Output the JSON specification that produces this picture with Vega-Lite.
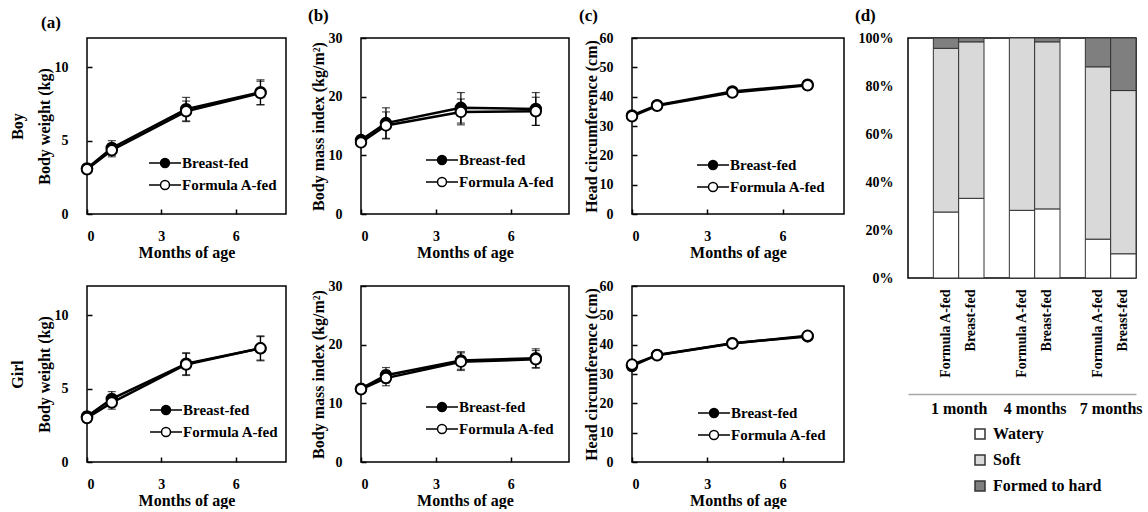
{
  "$schema": "https://vega.github.io/schema/vega-lite/v6.json",
  "padding": {"left": 8, "top": 6, "right": 0, "bottom": 0},
  "config": {
    "font": "Liberation Serif, DejaVu Serif, serif",
    "view": {"stroke": "black", "strokeWidth": 1.5},
    "axis": {"labelFont": "Liberation Serif, DejaVu Serif, serif", "labelFontSize": 14, "labelFontWeight": "bold", "labelColor": "black", "titleFont": "Liberation Serif, DejaVu Serif, serif", "titleFontSize": 16, "titleFontWeight": "bold", "titleColor": "black", "grid": false, "domain": false, "tickColor": "black", "tickSize": -5, "tickWidth": 1.5},
    "axisX": {"labelPadding": 20, "titlePadding": 1},
    "axisY": {"labelPadding": 24, "titlePadding": 2},
    "title": {"font": "Liberation Serif, DejaVu Serif, serif", "fontSize": 17, "fontWeight": "bold", "anchor": "start", "frame": "group", "color": "black"},
    "legend": {"labelFont": "Liberation Serif, DejaVu Serif, serif", "labelFontSize": 15, "labelFontWeight": "bold", "labelColor": "black", "padding": 0}
  },
  "datasets": {
    "growth": [
      {"m": "weight", "sex": "Boy", "group": "Breast-fed", "month": 0, "mean": 3.10, "lo": 2.80, "hi": 3.40},
      {"m": "weight", "sex": "Boy", "group": "Breast-fed", "month": 1, "mean": 4.50, "lo": 4.00, "hi": 5.00},
      {"m": "weight", "sex": "Boy", "group": "Breast-fed", "month": 4, "mean": 7.15, "lo": 6.35, "hi": 7.95},
      {"m": "weight", "sex": "Boy", "group": "Breast-fed", "month": 7, "mean": 8.30, "lo": 7.45, "hi": 9.15},
      {"m": "weight", "sex": "Boy", "group": "Formula A-fed", "month": 0, "mean": 3.05, "lo": 2.75, "hi": 3.35},
      {"m": "weight", "sex": "Boy", "group": "Formula A-fed", "month": 1, "mean": 4.35, "lo": 3.90, "hi": 4.80},
      {"m": "weight", "sex": "Boy", "group": "Formula A-fed", "month": 4, "mean": 7.00, "lo": 6.30, "hi": 7.70},
      {"m": "weight", "sex": "Boy", "group": "Formula A-fed", "month": 7, "mean": 8.25, "lo": 7.45, "hi": 9.05},
      {"m": "weight", "sex": "Girl", "group": "Breast-fed", "month": 0, "mean": 3.10, "lo": 2.80, "hi": 3.40},
      {"m": "weight", "sex": "Girl", "group": "Breast-fed", "month": 1, "mean": 4.30, "lo": 3.80, "hi": 4.80},
      {"m": "weight", "sex": "Girl", "group": "Breast-fed", "month": 4, "mean": 6.70, "lo": 5.95, "hi": 7.45},
      {"m": "weight", "sex": "Girl", "group": "Breast-fed", "month": 7, "mean": 7.75, "lo": 6.90, "hi": 8.60},
      {"m": "weight", "sex": "Girl", "group": "Formula A-fed", "month": 0, "mean": 3.00, "lo": 2.70, "hi": 3.30},
      {"m": "weight", "sex": "Girl", "group": "Formula A-fed", "month": 1, "mean": 4.05, "lo": 3.60, "hi": 4.50},
      {"m": "weight", "sex": "Girl", "group": "Formula A-fed", "month": 4, "mean": 6.65, "lo": 5.90, "hi": 7.40},
      {"m": "weight", "sex": "Girl", "group": "Formula A-fed", "month": 7, "mean": 7.75, "lo": 6.95, "hi": 8.55},
      {"m": "bmi", "sex": "Boy", "group": "Breast-fed", "month": 0, "mean": 12.6, "lo": 11.9, "hi": 13.3},
      {"m": "bmi", "sex": "Boy", "group": "Breast-fed", "month": 1, "mean": 15.5, "lo": 12.9, "hi": 18.1},
      {"m": "bmi", "sex": "Boy", "group": "Breast-fed", "month": 4, "mean": 18.1, "lo": 15.5, "hi": 20.7},
      {"m": "bmi", "sex": "Boy", "group": "Breast-fed", "month": 7, "mean": 17.9, "lo": 15.1, "hi": 20.7},
      {"m": "bmi", "sex": "Boy", "group": "Formula A-fed", "month": 0, "mean": 12.2, "lo": 11.5, "hi": 12.9},
      {"m": "bmi", "sex": "Boy", "group": "Formula A-fed", "month": 1, "mean": 15.1, "lo": 12.8, "hi": 17.4},
      {"m": "bmi", "sex": "Boy", "group": "Formula A-fed", "month": 4, "mean": 17.4, "lo": 15.2, "hi": 19.6},
      {"m": "bmi", "sex": "Boy", "group": "Formula A-fed", "month": 7, "mean": 17.5, "lo": 15.1, "hi": 19.9},
      {"m": "bmi", "sex": "Girl", "group": "Breast-fed", "month": 0, "mean": 12.5, "lo": 11.9, "hi": 13.1},
      {"m": "bmi", "sex": "Girl", "group": "Breast-fed", "month": 1, "mean": 14.8, "lo": 13.5, "hi": 16.1},
      {"m": "bmi", "sex": "Girl", "group": "Breast-fed", "month": 4, "mean": 17.3, "lo": 15.8, "hi": 18.8},
      {"m": "bmi", "sex": "Girl", "group": "Breast-fed", "month": 7, "mean": 17.7, "lo": 16.1, "hi": 19.3},
      {"m": "bmi", "sex": "Girl", "group": "Formula A-fed", "month": 0, "mean": 12.4, "lo": 11.8, "hi": 13.0},
      {"m": "bmi", "sex": "Girl", "group": "Formula A-fed", "month": 1, "mean": 14.3, "lo": 13.0, "hi": 15.6},
      {"m": "bmi", "sex": "Girl", "group": "Formula A-fed", "month": 4, "mean": 17.1, "lo": 15.6, "hi": 18.6},
      {"m": "bmi", "sex": "Girl", "group": "Formula A-fed", "month": 7, "mean": 17.5, "lo": 16.0, "hi": 19.0},
      {"m": "head", "sex": "Boy", "group": "Breast-fed", "month": 0, "mean": 33.6, "lo": 33.0, "hi": 34.2},
      {"m": "head", "sex": "Boy", "group": "Breast-fed", "month": 1, "mean": 37.1, "lo": 36.5, "hi": 37.7},
      {"m": "head", "sex": "Boy", "group": "Breast-fed", "month": 4, "mean": 41.8, "lo": 41.2, "hi": 42.4},
      {"m": "head", "sex": "Boy", "group": "Breast-fed", "month": 7, "mean": 44.1, "lo": 43.5, "hi": 44.7},
      {"m": "head", "sex": "Boy", "group": "Formula A-fed", "month": 0, "mean": 33.3, "lo": 32.7, "hi": 33.9},
      {"m": "head", "sex": "Boy", "group": "Formula A-fed", "month": 1, "mean": 36.9, "lo": 36.3, "hi": 37.5},
      {"m": "head", "sex": "Boy", "group": "Formula A-fed", "month": 4, "mean": 41.4, "lo": 40.8, "hi": 42.0},
      {"m": "head", "sex": "Boy", "group": "Formula A-fed", "month": 7, "mean": 43.9, "lo": 43.3, "hi": 44.5},
      {"m": "head", "sex": "Girl", "group": "Breast-fed", "month": 0, "mean": 32.7, "lo": 32.1, "hi": 33.3},
      {"m": "head", "sex": "Girl", "group": "Breast-fed", "month": 1, "mean": 36.5, "lo": 35.9, "hi": 37.1},
      {"m": "head", "sex": "Girl", "group": "Breast-fed", "month": 4, "mean": 40.5, "lo": 39.9, "hi": 41.1},
      {"m": "head", "sex": "Girl", "group": "Breast-fed", "month": 7, "mean": 42.8, "lo": 42.2, "hi": 43.4},
      {"m": "head", "sex": "Girl", "group": "Formula A-fed", "month": 0, "mean": 33.2, "lo": 32.6, "hi": 33.8},
      {"m": "head", "sex": "Girl", "group": "Formula A-fed", "month": 1, "mean": 36.4, "lo": 35.8, "hi": 37.0},
      {"m": "head", "sex": "Girl", "group": "Formula A-fed", "month": 4, "mean": 40.4, "lo": 39.8, "hi": 41.0},
      {"m": "head", "sex": "Girl", "group": "Formula A-fed", "month": 7, "mean": 43.0, "lo": 42.4, "hi": 43.6}
    ],
    "stool": [
      {"slot": "1 month|Formula A-fed", "type": "Watery", "pct": 27.5},
      {"slot": "1 month|Formula A-fed", "type": "Soft", "pct": 68.2},
      {"slot": "1 month|Formula A-fed", "type": "Formed to hard", "pct": 4.3},
      {"slot": "1 month|Breast-fed", "type": "Watery", "pct": 33.2},
      {"slot": "1 month|Breast-fed", "type": "Soft", "pct": 65.2},
      {"slot": "1 month|Breast-fed", "type": "Formed to hard", "pct": 1.6},
      {"slot": "4 months|Formula A-fed", "type": "Watery", "pct": 28.2},
      {"slot": "4 months|Formula A-fed", "type": "Soft", "pct": 71.8},
      {"slot": "4 months|Breast-fed", "type": "Watery", "pct": 28.8},
      {"slot": "4 months|Breast-fed", "type": "Soft", "pct": 69.6},
      {"slot": "4 months|Breast-fed", "type": "Formed to hard", "pct": 1.6},
      {"slot": "7 months|Formula A-fed", "type": "Watery", "pct": 16.2},
      {"slot": "7 months|Formula A-fed", "type": "Soft", "pct": 71.8},
      {"slot": "7 months|Formula A-fed", "type": "Formed to hard", "pct": 12.0},
      {"slot": "7 months|Breast-fed", "type": "Watery", "pct": 10.1},
      {"slot": "7 months|Breast-fed", "type": "Soft", "pct": 68.0},
      {"slot": "7 months|Breast-fed", "type": "Formed to hard", "pct": 21.9}
    ],
    "groups": [
      {"month": "1 month"},
      {"month": "4 months"},
      {"month": "7 months"}
    ]
  },
  "resolve": {"scale": {"fill": "independent"}, "legend": {"fill": "independent"}},
  "spacing": 20,
  "hconcat": [
    {
      "resolve": {"scale": {"fill": "independent"}, "legend": {"fill": "independent"}},
      "spacing": 24,
      "vconcat": [
        {
          "width": 199, "height": 176,
          "title": {"text": "(a)", "dx": -46, "offset": 6},
          "data": {"name": "growth"},
          "transform": [{"filter": "datum.m === 'weight' && datum.sex === 'Boy'"}],
          "encoding": {
            "x": {"field": "month", "type": "quantitative", "scale": {"domain": [0, 8.03], "nice": false, "zero": false}, "axis": {"values": [0, 3, 6], "title": "Months of age"}},
            "y": {"field": "mean", "type": "quantitative", "scale": {"domain": [0, 12], "nice": false}, "axis": {"values": [0, 5, 10], "title": ["Boy", "Body weight (kg)"], "titleLineHeight": 27}}
          },
          "layer": [
            {"mark": {"type": "errorbar", "color": "black", "thickness": 1.2, "ticks": {"size": 8, "thickness": 1.2, "color": "black"}},
             "encoding": {"y": {"field": "lo", "type": "quantitative", "scale": {"domain": [0, 12], "nice": false}, "axis": {"values": [0, 5, 10], "title": ["Boy", "Body weight (kg)"], "titleLineHeight": 27}}, "y2": {"field": "hi"}, "detail": {"field": "group"}}},
            {"mark": {"type": "line", "color": "black", "strokeWidth": 2.5}, "encoding": {"detail": {"field": "group"}}},
            {"mark": {"type": "point", "shape": "circle", "filled": true, "size": 110, "stroke": "black", "strokeWidth": 2, "opacity": 1},
             "encoding": {"fill": {"field": "group", "type": "nominal", "scale": {"domain": ["Breast-fed", "Formula A-fed"], "range": ["black", "white"]},
               "legend": {"orient": "none", "legendX": 61, "legendY": 116, "title": null, "symbolType": "M-1,0L-0.28,0M0.28,0L1,0M0.28,0A0.28,0.28,0,1,1,-0.28,0A0.28,0.28,0,1,1,0.28,0Z", "symbolSize": 1024, "labelOffset": 0, "rowPadding": 4, "clipHeight": 18, "encode": {"symbols": {"update": {"stroke": {"value": "black"}, "strokeWidth": {"value": 2}}}}}}}}
          ]
        },
        {
          "width": 199, "height": 176,
          "data": {"name": "growth"},
          "transform": [{"filter": "datum.m === 'weight' && datum.sex === 'Girl'"}],
          "encoding": {
            "x": {"field": "month", "type": "quantitative", "scale": {"domain": [0, 8.03], "nice": false, "zero": false}, "axis": {"values": [0, 3, 6], "title": "Months of age"}},
            "y": {"field": "mean", "type": "quantitative", "scale": {"domain": [0, 12], "nice": false}, "axis": {"values": [0, 5, 10], "title": ["Girl", "Body weight (kg)"], "titleLineHeight": 27}}
          },
          "layer": [
            {"mark": {"type": "errorbar", "color": "black", "thickness": 1.2, "ticks": {"size": 8, "thickness": 1.2, "color": "black"}},
             "encoding": {"y": {"field": "lo", "type": "quantitative", "scale": {"domain": [0, 12], "nice": false}, "axis": {"values": [0, 5, 10], "title": ["Girl", "Body weight (kg)"], "titleLineHeight": 27}}, "y2": {"field": "hi"}, "detail": {"field": "group"}}},
            {"mark": {"type": "line", "color": "black", "strokeWidth": 2.5}, "encoding": {"detail": {"field": "group"}}},
            {"mark": {"type": "point", "shape": "circle", "filled": true, "size": 110, "stroke": "black", "strokeWidth": 2, "opacity": 1},
             "encoding": {"fill": {"field": "group", "type": "nominal", "scale": {"domain": ["Breast-fed", "Formula A-fed"], "range": ["black", "white"]},
               "legend": {"orient": "none", "legendX": 62, "legendY": 115, "title": null, "symbolType": "M-1,0L-0.28,0M0.28,0L1,0M0.28,0A0.28,0.28,0,1,1,-0.28,0A0.28,0.28,0,1,1,0.28,0Z", "symbolSize": 1024, "labelOffset": 0, "rowPadding": 4, "clipHeight": 18, "encode": {"symbols": {"update": {"stroke": {"value": "black"}, "strokeWidth": {"value": 2}}}}}}}}
          ]
        }
      ]
    },
    {
      "resolve": {"scale": {"fill": "independent"}, "legend": {"fill": "independent"}},
      "spacing": 8,
      "hconcat": [
        {
          "resolve": {"scale": {"fill": "independent"}, "legend": {"fill": "independent"}},
          "spacing": 17,
          "vconcat": [
            {
              "width": 208, "height": 176,
              "title": {"text": "(b)", "dx": -53, "offset": 6},
              "data": {"name": "growth"},
              "transform": [{"filter": "datum.m === 'bmi' && datum.sex === 'Boy'"}],
              "encoding": {
                "x": {"field": "month", "type": "quantitative", "scale": {"domain": [0, 8.33], "nice": false, "zero": false}, "axis": {"values": [0, 3, 6], "title": "Months of age"}},
                "y": {"field": "mean", "type": "quantitative", "scale": {"domain": [0, 30], "nice": false}, "axis": {"values": [0, 10, 20, 30], "title": "Body mass index (kg/m²)"}}
              },
              "layer": [
                {"mark": {"type": "errorbar", "color": "black", "thickness": 1.2, "ticks": {"size": 8, "thickness": 1.2, "color": "black"}},
                 "encoding": {"y": {"field": "lo", "type": "quantitative", "scale": {"domain": [0, 30], "nice": false}, "axis": {"values": [0, 10, 20, 30], "title": "Body mass index (kg/m²)"}}, "y2": {"field": "hi"}, "detail": {"field": "group"}}},
                {"mark": {"type": "line", "color": "black", "strokeWidth": 2.5}, "encoding": {"detail": {"field": "group"}}},
                {"mark": {"type": "point", "shape": "circle", "filled": true, "size": 110, "stroke": "black", "strokeWidth": 2, "opacity": 1},
                 "encoding": {"fill": {"field": "group", "type": "nominal", "scale": {"domain": ["Breast-fed", "Formula A-fed"], "range": ["black", "white"]},
                   "legend": {"orient": "none", "legendX": 64, "legendY": 113, "title": null, "symbolType": "M-1,0L-0.28,0M0.28,0L1,0M0.28,0A0.28,0.28,0,1,1,-0.28,0A0.28,0.28,0,1,1,0.28,0Z", "symbolSize": 1024, "labelOffset": 0, "rowPadding": 4, "clipHeight": 18, "encode": {"symbols": {"update": {"stroke": {"value": "black"}, "strokeWidth": {"value": 2}}}}}}}}
              ]
            },
            {
              "width": 208, "height": 176,
              "data": {"name": "growth"},
              "transform": [{"filter": "datum.m === 'bmi' && datum.sex === 'Girl'"}],
              "encoding": {
                "x": {"field": "month", "type": "quantitative", "scale": {"domain": [0, 8.33], "nice": false, "zero": false}, "axis": {"values": [0, 3, 6], "title": "Months of age"}},
                "y": {"field": "mean", "type": "quantitative", "scale": {"domain": [0, 30], "nice": false}, "axis": {"values": [0, 10, 20, 30], "title": "Body mass index (kg/m²)"}}
              },
              "layer": [
                {"mark": {"type": "errorbar", "color": "black", "thickness": 1.2, "ticks": {"size": 8, "thickness": 1.2, "color": "black"}},
                 "encoding": {"y": {"field": "lo", "type": "quantitative", "scale": {"domain": [0, 30], "nice": false}, "axis": {"values": [0, 10, 20, 30], "title": "Body mass index (kg/m²)"}}, "y2": {"field": "hi"}, "detail": {"field": "group"}}},
                {"mark": {"type": "line", "color": "black", "strokeWidth": 2.5}, "encoding": {"detail": {"field": "group"}}},
                {"mark": {"type": "point", "shape": "circle", "filled": true, "size": 110, "stroke": "black", "strokeWidth": 2, "opacity": 1},
                 "encoding": {"fill": {"field": "group", "type": "nominal", "scale": {"domain": ["Breast-fed", "Formula A-fed"], "range": ["black", "white"]},
                   "legend": {"orient": "none", "legendX": 64, "legendY": 112, "title": null, "symbolType": "M-1,0L-0.28,0M0.28,0L1,0M0.28,0A0.28,0.28,0,1,1,-0.28,0A0.28,0.28,0,1,1,0.28,0Z", "symbolSize": 1024, "labelOffset": 0, "rowPadding": 4, "clipHeight": 18, "encode": {"symbols": {"update": {"stroke": {"value": "black"}, "strokeWidth": {"value": 2}}}}}}}}
              ]
            }
          ]
        },
        {
          "resolve": {"scale": {"fill": "independent"}, "legend": {"fill": "independent"}},
          "spacing": 9,
          "hconcat": [
            {
              "resolve": {"scale": {"fill": "independent"}, "legend": {"fill": "independent"}},
              "spacing": 17,
              "vconcat": [
                {
                  "width": 212, "height": 176,
                  "title": {"text": "(c)", "dx": -53, "offset": 6},
                  "data": {"name": "growth"},
                  "transform": [{"filter": "datum.m === 'head' && datum.sex === 'Boy'"}],
                  "encoding": {
                    "x": {"field": "month", "type": "quantitative", "scale": {"domain": [0, 8.45], "nice": false, "zero": false}, "axis": {"values": [0, 3, 6], "title": "Months of age"}},
                    "y": {"field": "mean", "type": "quantitative", "scale": {"domain": [0, 60], "nice": false}, "axis": {"values": [0, 10, 20, 30, 40, 50, 60], "title": "Head circumference (cm)", "titlePadding": 0}}
                  },
                  "layer": [
                    {"mark": {"type": "errorbar", "color": "black", "thickness": 1.2, "ticks": {"size": 8, "thickness": 1.2, "color": "black"}},
                     "encoding": {"y": {"field": "lo", "type": "quantitative", "scale": {"domain": [0, 60], "nice": false}, "axis": {"values": [0, 10, 20, 30, 40, 50, 60], "title": "Head circumference (cm)", "titlePadding": 0}}, "y2": {"field": "hi"}, "detail": {"field": "group"}}},
                    {"mark": {"type": "line", "color": "black", "strokeWidth": 2.5}, "encoding": {"detail": {"field": "group"}}},
                    {"mark": {"type": "point", "shape": "circle", "filled": true, "size": 110, "stroke": "black", "strokeWidth": 2, "opacity": 1},
                     "encoding": {"fill": {"field": "group", "type": "nominal", "scale": {"domain": ["Breast-fed", "Formula A-fed"], "range": ["black", "white"]},
                       "legend": {"orient": "none", "legendX": 64, "legendY": 118, "title": null, "symbolType": "M-1,0L-0.28,0M0.28,0L1,0M0.28,0A0.28,0.28,0,1,1,-0.28,0A0.28,0.28,0,1,1,0.28,0Z", "symbolSize": 1024, "labelOffset": 0, "rowPadding": 4, "clipHeight": 18, "encode": {"symbols": {"update": {"stroke": {"value": "black"}, "strokeWidth": {"value": 2}}}}}}}}
                  ]
                },
                {
                  "width": 212, "height": 176,
                  "data": {"name": "growth"},
                  "transform": [{"filter": "datum.m === 'head' && datum.sex === 'Girl'"}],
                  "encoding": {
                    "x": {"field": "month", "type": "quantitative", "scale": {"domain": [0, 8.45], "nice": false, "zero": false}, "axis": {"values": [0, 3, 6], "title": "Months of age"}},
                    "y": {"field": "mean", "type": "quantitative", "scale": {"domain": [0, 60], "nice": false}, "axis": {"values": [0, 10, 20, 30, 40, 50, 60], "title": "Head circumference (cm)", "titlePadding": 0}}
                  },
                  "layer": [
                    {"mark": {"type": "errorbar", "color": "black", "thickness": 1.2, "ticks": {"size": 8, "thickness": 1.2, "color": "black"}},
                     "encoding": {"y": {"field": "lo", "type": "quantitative", "scale": {"domain": [0, 60], "nice": false}, "axis": {"values": [0, 10, 20, 30, 40, 50, 60], "title": "Head circumference (cm)", "titlePadding": 0}}, "y2": {"field": "hi"}, "detail": {"field": "group"}}},
                    {"mark": {"type": "line", "color": "black", "strokeWidth": 2.5}, "encoding": {"detail": {"field": "group"}}},
                    {"mark": {"type": "point", "shape": "circle", "filled": true, "size": 110, "stroke": "black", "strokeWidth": 2, "opacity": 1},
                     "encoding": {"fill": {"field": "group", "type": "nominal", "scale": {"domain": ["Breast-fed", "Formula A-fed"], "range": ["black", "white"]},
                       "legend": {"orient": "none", "legendX": 65, "legendY": 118, "title": null, "symbolType": "M-1,0L-0.28,0M0.28,0L1,0M0.28,0A0.28,0.28,0,1,1,-0.28,0A0.28,0.28,0,1,1,0.28,0Z", "symbolSize": 1024, "labelOffset": 0, "rowPadding": 4, "clipHeight": 18, "encode": {"symbols": {"update": {"stroke": {"value": "black"}, "strokeWidth": {"value": 2}}}}}}}}
                  ]
                }
              ]
            },
            {
              "width": 228, "height": 240,
              "title": {"text": "(d)", "dx": -53, "offset": 6},
              "layer": [
                {
                  "data": {"name": "stool"},
                  "mark": {"type": "bar", "stroke": "#333333", "strokeWidth": 1},
                  "encoding": {
                    "x": {"field": "slot", "type": "nominal", "sort": null,
                      "scale": {"domain": ["g1", "1 month|Formula A-fed", "1 month|Breast-fed", "g2", "4 months|Formula A-fed", "4 months|Breast-fed", "g3", "7 months|Formula A-fed", "7 months|Breast-fed"], "paddingInner": 0, "paddingOuter": 0},
                      "axis": {"title": null, "labelAngle": -90, "labelExpr": "indexof(datum.label, '|') > 0 ? split(datum.label, '|')[1] : ''", "ticks": false, "domain": false, "labelPadding": 11, "labelFontSize": 14}},
                    "y": {"field": "pct", "type": "quantitative", "stack": "zero", "scale": {"domain": [0, 100], "nice": false},
                      "axis": {"values": [0, 20, 40, 60, 80, 100], "labelExpr": "datum.value + '%'", "title": null, "ticks": false, "labelPadding": 15}},
                    "fill": {"field": "type", "type": "nominal", "scale": {"domain": ["Watery", "Soft", "Formed to hard"], "range": ["#ffffff", "#d9d9d9", "#7f7f7f"]},
                      "legend": {"orient": "none", "legendX": 64, "legendY": 388, "title": null, "direction": "vertical", "symbolType": "square", "symbolSize": 100, "labelFontSize": 16, "labelOffset": 5, "rowPadding": 10, "encode": {"symbols": {"update": {"stroke": {"value": "#333333"}, "strokeWidth": {"value": 1.5}}}}}},
                    "order": {"field": "type", "sort": "descending"}
                  }
                },
                {
                  "data": {"name": "groups"},
                  "mark": {"type": "point", "opacity": 0},
                  "encoding": {
                    "x": {"field": "month", "type": "nominal", "sort": null,
                      "scale": {"type": "point", "domain": ["1 month", "4 months", "7 months"], "padding": 0.5, "align": 0.6667},
                      "axis": {"orient": "bottom", "offset": 116, "title": null, "domain": true, "domainColor": "#a6a6a6", "domainWidth": 1.5, "ticks": false, "labelAngle": 0, "labelFontSize": 16, "labelPadding": 6}}
                  }
                }
              ],
              "resolve": {"scale": {"x": "independent"}, "axis": {"x": "independent"}}
            }
          ]
        }
      ]
    }
  ]
}
